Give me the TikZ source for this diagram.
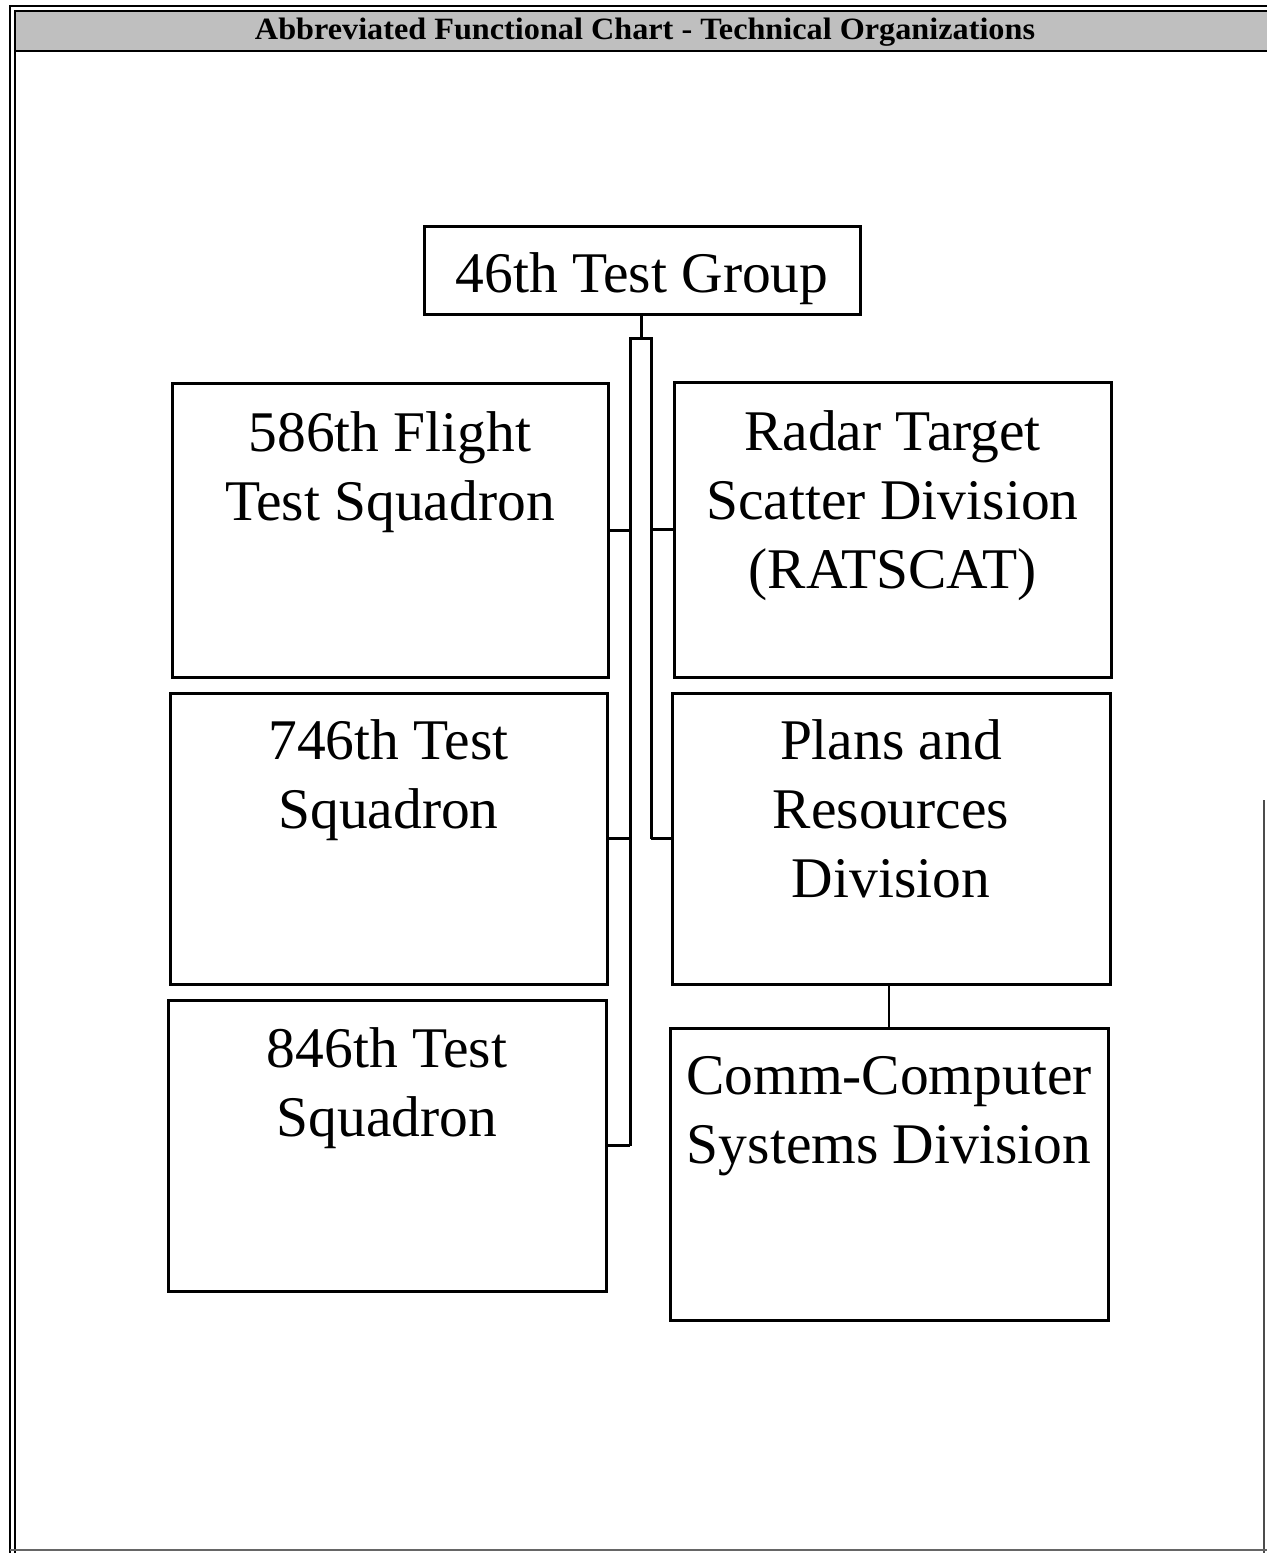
\documentclass[tikz,border=0pt]{standalone}
\usepackage{fontspec}
\setmainfont{Liberation Serif}
\begin{document}
\begin{tikzpicture}[x=0.5pt,y=-0.5pt,
  box/.style={draw=black, line width=1.5pt, minimum width=#1*0.5pt, inner sep=0pt},
  boxtext/.style={font=\fontsize{28.75pt}{34.5pt}\selectfont, align=center, inner sep=0pt, anchor=north},
  conn/.style={draw=black, line width=1.5pt},
  frame/.style={draw=black, line width=1.2pt}]
\useasboundingbox (0,0) rectangle (1267,1553);
% frame and title bar
\fill[black!25] (15,11) rectangle (1267,51);
\draw[frame] (10,1553) -- (10,6) -- (1267,6);
\draw[frame] (15,1553) -- (15,11) -- (1267,11);
\draw[frame] (15,51) -- (1267,51);
\draw[black!70, line width=0.6pt] (1264,800) -- (1264,1553);
\draw[black!60, line width=1pt] (10,1550) -- (1267,1550);
\node[anchor=base, inner sep=0pt, font=\fontsize{15.5pt}{18pt}\selectfont\bfseries] (title) at (645,39)
  {\resizebox{390pt}{\height}{Abbreviated Functional Chart - Technical Organizations}};
% boxes
\node[box=436, minimum height=44pt] (tg) at (642,270) {};
\node[box=436, minimum height=147pt] (b586) at (390,530) {};
\node[box=437, minimum height=147.5pt] (rad) at (892.5,529.5) {};
\node[box=437, minimum height=145.5pt] (b746) at (388.5,838.5) {};
\node[box=438, minimum height=145.5pt] (plans) at (891,838.5) {};
\node[box=438, minimum height=145.5pt] (b846) at (387,1145.5) {};
\node[box=438, minimum height=146pt] (comm) at (889,1174) {};
% texts
\node[boxtext, anchor=base] (ttg) at (642,292) {46th Test Group};
\node[boxtext] (t586) at ([yshift=-15pt]b586.north) {586th Flight\\Test Squadron};
\node[boxtext] (trad) at ([yshift=-15pt]rad.north) {Radar Target\\Scatter Division\\(RATSCAT)};
\node[boxtext] (t746) at ([yshift=-14pt]b746.north) {746th Test\\Squadron};
\node[boxtext] (tplans) at ([yshift=-14pt]plans.north) {Plans and\\Resources\\Division};
\node[boxtext] (t846) at ([yshift=-14.5pt]b846.north) {846th Test\\Squadron};
\node[boxtext] (tcomm) at ([yshift=-15pt]comm.north) {Comm-Computer\\Systems Division};
% bus coordinates
\coordinate (bustop) at (641,338);
\coordinate (busL) at (630,338);
\coordinate (busR) at (651,338);
% connectors
\draw[conn] (tg.south -| bustop) -- (bustop);
\draw[conn] (b846.east -| busL) -- (busL) -- (busR) -- (plans.west -| busR);
\draw[conn] (b586.east) -- (b586.east -| busL);
\draw[conn] (b746.east) -- (b746.east -| busL);
\draw[conn] (b846.east) -- (b846.east -| busL);
\draw[conn] (rad.west) -- (rad.west -| busR);
\draw[conn] (plans.west) -- (plans.west -| busR);
\draw[conn, line width=1pt] (comm.north) -- (comm.north |- plans.south);
\end{tikzpicture}
\end{document}
